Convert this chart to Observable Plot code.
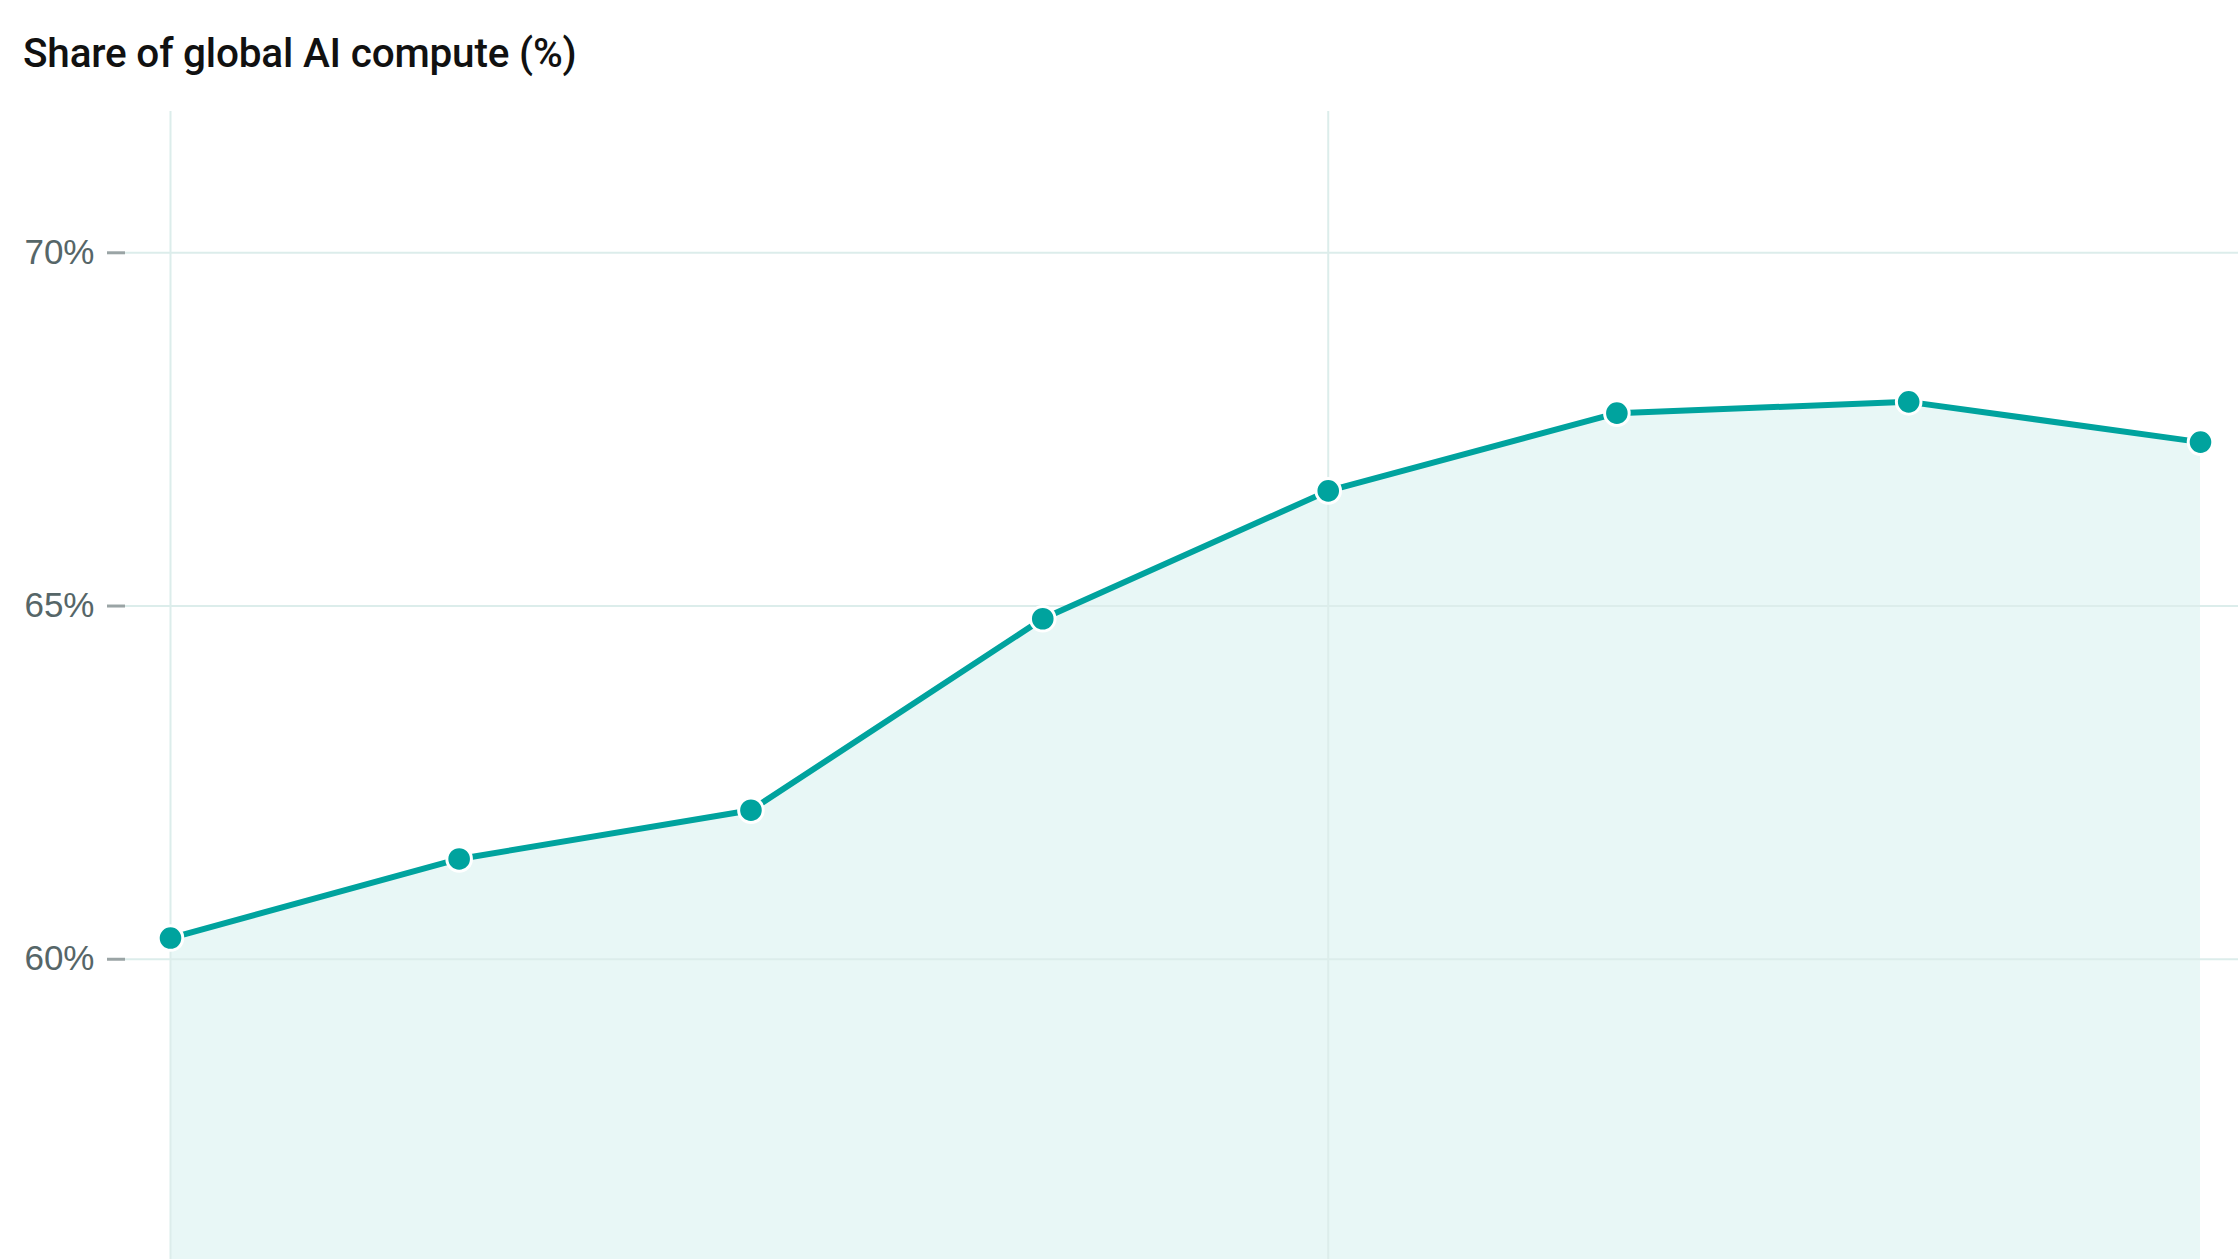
<!DOCTYPE html>
<html><head><meta charset="utf-8">
<script src="https://cdn.jsdelivr.net/npm/d3@7"></script>
<script src="https://cdn.jsdelivr.net/npm/@observablehq/plot@0.6"></script>
<style>
html,body{margin:0;padding:0;background:#fff;overflow:hidden}
#title{height:80px;box-sizing:border-box;padding:33px 0 0 23px;font:500 40.5px Roboto,"Liberation Sans",Arial,sans-serif;color:#111;line-height:1;letter-spacing:-0.2px}
</style></head><body>
<div id="title">Share of global AI compute (%)</div>
<div id="chart"></div>
<script>
// Quarterly observations (quarter-end dates)
const quarters = ["2022-03-31","2022-06-30","2022-09-30","2022-12-31","2023-03-31","2023-06-30","2023-09-30","2023-12-31"];
const share = [60.3, 61.42, 62.11, 64.82, 66.63, 67.73, 67.89, 67.32];
// Axis ticks
const yTicks = [60, 65, 70];
const xGridTicks = [quarters[0], quarters[4]];
const yDomain = [55.75, 72];

const data = quarters.map((q, i) => ({date: new Date(q), value: share[i]}));
const teal = "#00a39e";
const grid = "#dcedeb";

const chart = Plot.plot({
  width: 2238,
  height: 1179,
  marginTop: 31,
  marginBottom: 0,
  marginLeft: 125,
  marginRight: 0,
  insetLeft: 45,
  insetRight: 38,
  style: {fontFamily: "'Liberation Sans', Arial, sans-serif", background: "#fff"},
  x: {type: "utc", axis: null},
  y: {domain: yDomain, axis: null},
  marks: [
    Plot.areaY(data, {x: "date", y1: yDomain[0], y2: "value", fill: "#e8f7f6", fillOpacity: 1}),
    Plot.gridY(yTicks, {stroke: grid, strokeOpacity: 1, strokeWidth: 2}),
    Plot.gridX(xGridTicks.map(d => new Date(d)), {stroke: grid, strokeOpacity: 1, strokeWidth: 2}),
    Plot.axisY(yTicks, {label: null, tickSize: 18, tickPadding: 13, strokeWidth: 3, stroke: "#9aa4a5", fill: "#566668", fontSize: 35, tickFormat: d => d + "%"}),
    Plot.lineY(data, {x: "date", y: "value", stroke: teal, strokeWidth: 6}),
    Plot.dot(data, {x: "date", y: "value", r: 12.3, fill: teal, stroke: "#fff", strokeWidth: 3})
  ]
});
document.getElementById("chart").appendChild(chart);
</script>
</body></html>
